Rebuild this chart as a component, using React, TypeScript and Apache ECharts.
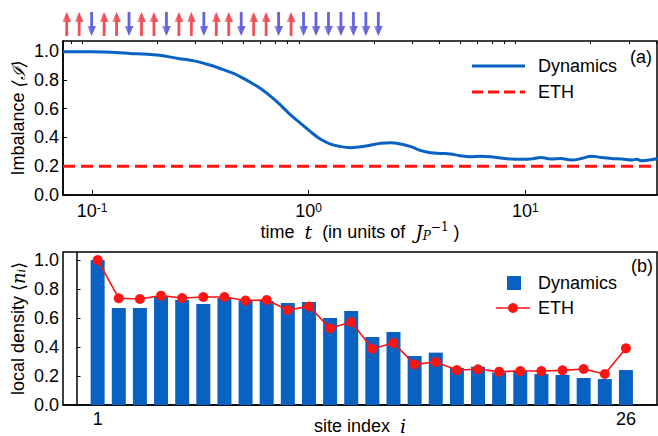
import React, { useEffect, useRef } from "react";
import * as echarts from "echarts";

// ---- data ----
const times = [0.0735, 0.08, 0.1, 0.15, 0.2, 0.25, 0.3, 0.35, 0.4, 0.45, 0.5, 0.55, 0.6, 0.65, 0.7, 0.75, 0.825, 0.918, 1.02, 1.136, 1.26, 1.41, 1.56, 1.74, 1.94, 2.15, 2.4, 2.66, 2.96, 3.3, 3.65, 4.05, 4.5, 5.0, 5.55, 6.2, 6.9, 7.7, 8.6, 9.5, 10.6, 11.8, 13.1, 14.6, 16.3, 18.1, 20.2, 22.5, 25.0, 27.9, 31.0, 32.7, 34.5, 38.5, 41.0];
const imbalance = [0.995, 0.995, 0.995, 0.984, 0.972, 0.949, 0.93, 0.903, 0.873, 0.845, 0.81, 0.775, 0.74, 0.70, 0.66, 0.618, 0.556, 0.498, 0.44, 0.387, 0.354, 0.336, 0.329, 0.336, 0.347, 0.359, 0.363, 0.354, 0.336, 0.308, 0.294, 0.289, 0.285, 0.273, 0.266, 0.27, 0.266, 0.257, 0.25, 0.248, 0.25, 0.26, 0.25, 0.253, 0.243, 0.253, 0.27, 0.26, 0.253, 0.25, 0.243, 0.248, 0.238, 0.246, 0.253];
const ethImbalance = 0.2;

const siteIndex = [1, 2, 3, 4, 5, 6, 7, 8, 9, 10, 11, 12, 13, 14, 15, 16, 17, 18, 19, 20, 21, 22, 23, 24, 25, 26];
const dynDensity = [1.0, 0.669, 0.669, 0.752, 0.724, 0.697, 0.74, 0.72, 0.717, 0.703, 0.71, 0.6, 0.648, 0.469, 0.503, 0.338, 0.361, 0.255, 0.264, 0.225, 0.237, 0.214, 0.207, 0.186, 0.179, 0.241];
const ethDensity = [1.0, 0.736, 0.731, 0.754, 0.738, 0.745, 0.745, 0.72, 0.724, 0.655, 0.68, 0.529, 0.572, 0.388, 0.428, 0.28, 0.296, 0.241, 0.246, 0.23, 0.234, 0.234, 0.239, 0.248, 0.214, 0.391];
// initial spin configuration (1 = up, 0 = down)
const spins = [1, 1, 0, 1, 1, 0, 1, 1, 0, 1, 1, 0, 1, 1, 0, 1, 1, 0, 1, 0, 0, 0, 0, 0, 0, 0];

const majorLogTicks = [0.1, 1, 10];
const minorLogTicks = [0.08, 0.09, 0.2, 0.3, 0.4, 0.5, 0.6, 0.7, 0.8, 0.9, 2, 3, 4, 5, 6, 7, 8, 9, 20, 30, 40];
const yTicks = [0, 0.2, 0.4, 0.6, 0.8, 1.0];
const siteLabels = [1, 26];

const BLUE = "#0862c2";
const RED = "#ff1414";
const SANS = "'Liberation Sans', Arial, sans-serif";
const SERIF = "'DejaVu Serif', 'Liberation Serif', serif";
const FS = 18;

const arrowPath = "path://M5 0 L10 10 L6.6 10 L6.6 24 L3.4 24 L3.4 10 L0 10 Z";

export default function App() {
  const ref = useRef<HTMLDivElement>(null);
  useEffect(() => {
    const chart = echarts.init(ref.current!, undefined, { renderer: "svg" });
    const axisLine = { show: true, lineStyle: { color: "#000", width: 1.5 } };
    const yAxisCommon = (gridIndex: number, max: number, name: string, rich: any) => ({
      type: "value",
      gridIndex,
      min: 0,
      max,
      interval: 0.2,
      axisLine,
      splitLine: { show: false },
      axisTick: { inside: true, length: 4, customValues: yTicks, lineStyle: { color: "#000", width: 1 } },
      axisLabel: { customValues: yTicks, formatter: (v: number) => v.toFixed(1), color: "#000", fontSize: FS, fontFamily: SANS, margin: 4 },
      name,
      nameLocation: "middle",
      nameGap: 36,
      nameMoveOverlap: false,
      nameTextStyle: { rich },
    });

    const option: any = {
      animation: false,
      backgroundColor: "#fff",
      grid: [
        { left: 63, right: 1, top: 41, height: 154, show: true, borderColor: "#000", borderWidth: 1.5, outerBoundsMode: "none", containLabel: false },
        { left: 63, right: 1, top: 252, height: 153, show: true, borderColor: "#000", borderWidth: 1.5, outerBoundsMode: "none", containLabel: false },
        { left: 66.7, width: 311.6, top: 12, height: 24, show: false, outerBoundsMode: "none", containLabel: false },
      ],
      xAxis: [
        {
          type: "log",
          gridIndex: 0,
          min: 0.0735,
          max: 40.5,
          axisLine,
          splitLine: { show: false },
          axisTick: { inside: true, length: 5, customValues: majorLogTicks, lineStyle: { color: "#000", width: 1 } },
          axisLabel: {
            customValues: majorLogTicks,
            margin: 7,
            formatter: (v: number) => `{b|10}{s|${Math.round(Math.log10(v)) < 0 ? "-" : ""}${Math.abs(Math.round(Math.log10(v)))}}`,
            rich: {
              b: { fontSize: FS, lineHeight: 18, fontFamily: SANS, color: "#000", verticalAlign: "bottom" },
              s: { fontSize: 12, lineHeight: 12, fontFamily: SANS, color: "#000", verticalAlign: "top", padding: [0, 0, 7, 0] },
            },
          },
          name: "{r|time  }{i|t}{r|  (in units of  }{i|J}{sub|P}{sup|−1}{r| )}",
          nameLocation: "middle",
          nameGap: 26,
          nameMoveOverlap: false,
          nameTextStyle: {
            rich: {
              r: { fontSize: FS, fontFamily: SANS, color: "#000" },
              i: { fontSize: FS + 1, fontFamily: SERIF, fontStyle: "italic", color: "#000" },
              sub: { fontSize: 12, fontFamily: SERIF, fontStyle: "italic", color: "#000", padding: [8, 0, 0, 0] },
              sup: { fontSize: 12, fontFamily: SERIF, color: "#000", padding: [0, 0, 9, 0] },
            },
          },
        },
        {
          type: "log",
          gridIndex: 0,
          min: 0.0735,
          max: 40.5,
          axisLine: { show: false },
          splitLine: { show: false },
          axisTick: { inside: true, length: 3, customValues: minorLogTicks, lineStyle: { color: "#000", width: 1 } },
          axisLabel: { show: false },
        },
        {
          type: "value",
          gridIndex: 1,
          min: -0.64,
          max: 27.47,
          axisLine,
          splitLine: { show: false },
          axisTick: { show: false },
          axisLabel: { customValues: siteLabels, color: "#000", fontSize: FS, fontFamily: SANS, margin: 5 },
          name: "{r|site index  }{i|i}",
          nameLocation: "middle",
          nameGap: 11,
          nameMoveOverlap: false,
          nameTextStyle: {
            rich: {
              r: { fontSize: FS, fontFamily: SANS, color: "#000" },
              i: { fontSize: FS + 1, fontFamily: SERIF, fontStyle: "italic", color: "#000" },
            },
          },
        },
        { type: "value", gridIndex: 2, min: 1, max: 26, show: false },
      ],
      yAxis: [
        yAxisCommon(0, 1.07, "{r|Imbalance }{m|⟨ℐ⟩}", {
          r: { fontSize: FS, fontFamily: SANS, color: "#000" },
          m: { fontSize: FS, fontFamily: SERIF, fontStyle: "italic", color: "#000" },
        }),
        yAxisCommon(1, 1.055, "{r|local density }{m|⟨}{i|n}{sub|i}{m|⟩}", {
          r: { fontSize: FS, fontFamily: SANS, color: "#000" },
          m: { fontSize: FS, fontFamily: SERIF, color: "#000" },
          i: { fontSize: FS, fontFamily: SERIF, fontStyle: "italic", color: "#000" },
          sub: { fontSize: 11, fontFamily: SERIF, fontStyle: "italic", color: "#000", padding: [7, 0, 0, 0] },
        }),
        { type: "value", gridIndex: 2, min: -1, max: 1, show: false },
      ],
      series: [
        {
          type: "line",
          name: "Dynamics",
          xAxisIndex: 0,
          yAxisIndex: 0,
          data: times.map((t, i) => [t, imbalance[i]]),
          smooth: 0.4,
          showSymbol: false,
          lineStyle: { color: BLUE, width: 3 },
          clip: true,
          z: 3,
        },
        {
          type: "line",
          name: "ETH",
          xAxisIndex: 0,
          yAxisIndex: 0,
          data: [[0.0735, ethImbalance], [40.5, ethImbalance]],
          showSymbol: false,
          lineStyle: { color: RED, width: 3, type: [12, 6] },
          z: 2,
        },
        {
          type: "bar",
          name: "Dynamics",
          xAxisIndex: 2,
          yAxisIndex: 1,
          data: siteIndex.map((s, i) => [s, dynDensity[i]]),
          barWidth: 14,
          itemStyle: { color: BLUE },
          z: 2,
        },
        {
          type: "line",
          name: "ETH",
          xAxisIndex: 2,
          yAxisIndex: 1,
          data: siteIndex.map((s, i) => [s, ethDensity[i]]),
          symbol: "circle",
          symbolSize: 10,
          itemStyle: { color: RED },
          lineStyle: { color: RED, width: 1.6 },
          z: 3,
        },
        {
          type: "scatter",
          xAxisIndex: 3,
          yAxisIndex: 2,
          data: siteIndex.map((s, i) => ({
            value: [s, 0],
            symbolRotate: spins[i] ? 0 : 180,
            itemStyle: {
              color: {
                type: "linear", x: 0, y: 0, x2: 1, y2: 0,
                colorStops: spins[i]
                  ? [{ offset: 0, color: "#f8a0a6" }, { offset: 0.45, color: "#e8202c" }, { offset: 1, color: "#ee3a44" }]
                  : [{ offset: 0, color: "#5050d8" }, { offset: 0.55, color: "#3a3ad0" }, { offset: 1, color: "#a8a8f0" }],
              },
            },
          })),
          symbol: arrowPath,
          symbolSize: [9, 24],
        },
      ],
      graphic: [
        // legend (a)
        { type: "line", shape: { x1: 472, y1: 66, x2: 525, y2: 66 }, style: { stroke: BLUE, lineWidth: 3 } },
        { type: "text", x: 538, y: 66, style: { text: "Dynamics", fontSize: FS, fontFamily: SANS, fill: "#000", verticalAlign: "middle" } },
        { type: "line", shape: { x1: 472, y1: 92, x2: 525, y2: 92 }, style: { stroke: RED, lineWidth: 3, lineDash: [11, 5] } },
        { type: "text", x: 538, y: 92, style: { text: "ETH", fontSize: FS, fontFamily: SANS, fill: "#000", verticalAlign: "middle" } },
        { type: "text", x: 630, y: 57, style: { text: "(a)", fontSize: FS, fontFamily: SANS, fill: "#000", verticalAlign: "middle" } },
        // legend (b)
        { type: "rect", shape: { x: 507, y: 276, width: 14, height: 14 }, style: { fill: BLUE } },
        { type: "text", x: 538, y: 283, style: { text: "Dynamics", fontSize: FS, fontFamily: SANS, fill: "#000", verticalAlign: "middle" } },
        { type: "line", shape: { x1: 496, y1: 308, x2: 530, y2: 308 }, style: { stroke: RED, lineWidth: 1.6 } },
        { type: "circle", shape: { cx: 513, cy: 308, r: 5 }, style: { fill: RED } },
        { type: "text", x: 538, y: 308, style: { text: "ETH", fontSize: FS, fontFamily: SANS, fill: "#000", verticalAlign: "middle" } },
        { type: "text", x: 631, y: 266, style: { text: "(b)", fontSize: FS, fontFamily: SANS, fill: "#000", verticalAlign: "middle" } },
      ],
    };
    chart.setOption(option);
    return () => chart.dispose();
  }, []);
  return <div ref={ref} style={{ position: "fixed", left: 0, top: 0, width: 658, height: 436, background: "#fff" }} />;
}
